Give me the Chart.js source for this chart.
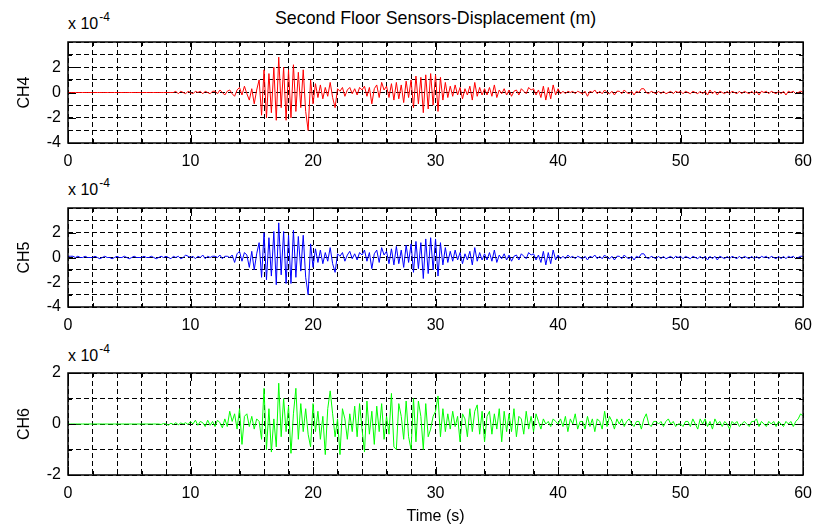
<!DOCTYPE html>
<html>
<head>
<meta charset="utf-8">
<script src="https://cdn.jsdelivr.net/npm/chart.js@4.4.1/dist/chart.umd.min.js"></script>
<style>
body { margin:0; background:#fff; width:821px; height:530px; position:relative; overflow:hidden;
  font-family:"Liberation Sans", Arial, sans-serif; color:#000; }
canvas { position:absolute; left:0; }
.lbl { position:absolute; font-size:16px; line-height:18px; white-space:nowrap; }
.lbl sup { font-size:12px; vertical-align:top; position:relative; top:-7px; margin-left:1px; }
</style>
</head>
<body>
<div class="lbl" style="left:275px;top:9px;font-size:17.8px">Second Floor Sensors-Displacement (m)</div>
<div class="lbl" style="left:68px;top:15px">x 10<sup>-4</sup></div>
<div class="lbl" style="left:68px;top:181px">x 10<sup>-4</sup></div>
<div class="lbl" style="left:68px;top:347px">x 10<sup>-4</sup></div>
<canvas id="c4" width="821" height="170" style="top:0px"></canvas>
<canvas id="c5" width="821" height="168" style="top:166px"></canvas>
<canvas id="c6" width="821" height="199" style="top:331px"></canvas>
<script>
// sample step of the recordings (s)
var dt = 0.2;

// displacement, in units of 1e-4 m, one row = 2 s
var ch4 = [
  0,0,0,0,0,0,0,0,0,0,
  0,0,0,0,0,0,0,0,0,0,
  0,0,0,0,0,0,0,0,0,0,
  0,0,0,0,0,0,0,0,0,0,
  0,0,0,0,0.1,-0.1,0.1,0,-0.1,0.1,
  0,-0.1,0.1,0,0.1,-0.1,0.1,0,-0.1,0.1,
  0.1,-0.1,0.2,0,-0.2,0.1,0.2,-0.1,-0.3,0.2,
  0.4,-0.2,0.5,-0.1,-0.6,0.3,-0.9,0.2,1.0,-1.8,
  1.8,-2.0,1.5,-1.6,2.0,-2.2,2.8,-1.2,2.0,-2.2,
  1.8,-2.0,2.2,-1.5,1.6,-1.2,1.8,-1.5,-3.0,1.0,
  -0.9,0.7,-0.4,0.6,-0.5,0.4,-0.3,0.8,-0.4,-1.2,
  0.3,0.1,0.4,-0.3,0.2,0.4,-0.1,0.3,-0.2,0.4,
  0.2,0.5,-0.3,0.4,-0.9,0.3,0.6,-0.4,0.8,0.2,
  0.5,-0.4,0.7,-0.6,0.8,-0.5,0.6,-0.8,0.9,-0.4,
  1.0,-1.2,1.3,-0.9,1.2,-1.6,1.4,-1.3,1.5,-1.0,
  1.4,-1.5,1.2,-0.6,0.8,-0.4,0.5,-0.3,0.6,-0.2,
  0.4,-0.5,0.3,-0.2,0.5,-0.6,0.8,-0.3,0.4,-0.2,
  0.3,-0.2,0.4,-0.3,0.6,-0.4,0.2,-0.1,0.3,-0.2,
  0.2,-0.3,0.1,0.2,-0.2,0.3,0.1,-0.1,0.4,0.2,
  0.3,-0.2,0.2,-0.4,0.5,-0.6,0.4,-0.5,0.6,-0.2,
  0.3,-0.1,0.1,-0.1,0.1,0,0.1,-0.1,0.1,0,
  -0.1,0.1,-0.3,0.1,0,0.2,-0.1,0.1,-0.1,0.2,
  0,-0.1,0.1,-0.2,0.1,0.1,-0.1,0.2,0,-0.1,
  0.1,-0.2,0.1,0,0.3,0.3,0,-0.1,0.1,0,
  -0.1,0.1,-0.1,0.1,-0.1,0,0.1,-0.1,0.1,0,
  0.1,-0.1,0.1,0,-0.1,0.1,0,-0.1,0.1,-0.1,
  0.1,-0.2,0.2,-0.1,0.1,-0.2,0.1,0,-0.1,0.1,
  -0.1,0.1,0,-0.1,0.1,-0.1,0.1,0,-0.1,0.1,
  -0.1,0.1,-0.2,0.1,0,0.1,-0.1,0.1,0,-0.1,
  0.1,-0.1,0.1,-0.2,0.1,0,0.1,-0.1,0,0.1,
  0
];
var ch5 = [
  0.1,0.1,0.1,0,0.1,0,0,0.1,0,0,
  0,0.1,0,-0.1,0,0.1,0,0,-0.1,0,
  0.1,0,0,0.1,0,-0.1,0,0.1,0,0,
  0,0.1,0,0,0.1,0,-0.1,0,0.1,0,
  0.1,0,-0.1,0.1,0,0.1,-0.1,0,0.2,0.1,
  0,0.1,-0.1,0.1,0,0.2,-0.1,0.1,0,0.1,
  0.1,0,0.2,-0.1,0.1,0.1,0,0.2,-0.4,0.3,
  0.5,-0.3,0.4,0.2,-0.8,0.5,-1.0,0.3,1.2,-1.6,
  2.0,-1.8,1.6,-1.5,2.1,-2.2,2.8,-1.4,2.1,-2.1,
  1.8,-2.1,2.2,-1.6,1.7,-1.1,1.8,-1.6,-3.0,1.1,
  -0.8,0.7,-0.4,0.6,-0.5,0.4,-0.3,0.8,-0.5,-1.2,
  0.3,0.1,0.4,-0.3,0.2,0.5,-0.1,0.3,-0.2,0.4,
  0.2,0.6,-0.3,0.4,-0.9,0.3,0.6,-0.4,0.8,0.2,
  0.5,-0.5,0.7,-0.6,0.9,-0.5,0.6,-0.8,1.0,-0.4,
  1.1,-1.2,1.3,-0.9,1.2,-1.7,1.5,-1.3,1.6,-1.0,
  1.5,-1.5,1.2,-0.6,0.8,-0.4,0.5,-0.3,0.6,-0.2,
  0.4,-0.5,0.3,-0.2,0.5,-0.6,0.8,-0.3,0.4,-0.2,
  0.3,-0.2,0.4,-0.3,0.6,-0.4,0.2,-0.1,0.3,-0.2,
  0.2,-0.3,0.1,0.2,-0.2,0.3,0.1,-0.1,0.4,0.2,
  0.3,-0.2,0.2,-0.4,0.5,-0.6,0.4,-0.5,0.6,-0.2,
  0.2,-0.1,0.1,-0.1,0.2,0,0.1,-0.1,0.1,0,
  -0.1,0.1,-0.2,0.1,0,0.2,-0.1,0.1,-0.1,0.2,
  0,-0.1,0.1,-0.2,0.1,0.1,-0.1,0.2,0,-0.1,
  0.1,-0.2,0.1,0,0.3,0.3,0,-0.1,0.1,0,
  -0.1,0.1,-0.1,0.1,-0.1,0,0.1,-0.1,0.1,0,
  0.1,-0.1,0.1,0,-0.1,0.1,0,-0.1,0.1,-0.1,
  0.1,-0.2,0.1,-0.1,0.1,-0.2,0.1,0,-0.1,0.1,
  -0.1,0.1,0,-0.1,0.1,-0.1,0.1,0,-0.1,0.1,
  -0.1,0.1,-0.1,0.1,0,0.1,-0.1,0.1,0,-0.1,
  0.1,-0.1,0.1,-0.1,0.1,0,0.1,-0.1,0,0.1,
  0.1
];
var ch6 = [
  0,0,0,0,0,0,0,0,0,0,
  0,0,0,0,0,0,0,0,0,0,
  0,0,0,0,0,0,0,0,0,0,
  0,0,0,0,0,0,0,0,-0.02,0.02,
  0,-0.04,0.03,-0.02,0.05,-0.03,0.04,0,0.05,-0.02,
  0.1,0,0.15,-0.05,0.1,0.05,-0.1,0.15,-0.05,0.1,
  -0.1,0.15,0.05,-0.15,0.2,-0.1,0.5,0.1,0.4,-0.2,
  0.6,-0.8,0.3,0.4,-0.1,0.3,-0.2,0.2,0.1,-0.6,
  1.4,-1.0,0.6,-1.1,0.2,-0.9,1.6,-0.5,1.0,-0.3,
  0.7,-1.15,0.4,1.4,-0.6,0.8,-0.3,0.6,-0.4,-0.9,
  0.8,-0.3,0.5,-0.6,0.3,-1.2,0.6,1.3,0.4,-0.5,
  0.2,-1.2,0.6,0.2,-0.6,0.4,-0.3,0.7,-0.5,0.8,
  -0.2,-1.1,0.9,-0.4,0.5,-0.8,0.7,-0.3,0.8,-0.6,
  0.3,-0.4,1.2,-0.9,-1.0,0.8,0.3,-0.6,0.9,-0.5,
  -1.0,1.0,-0.7,0.9,0.3,-1.0,0.8,-0.5,-0.2,0.3,
  0.5,1.1,-0.5,0.6,-0.3,0.4,-0.2,0.5,-0.1,0.3,
  -0.7,0.4,0.2,-0.5,0.6,-0.3,0.5,0.75,-0.4,0.5,
  -0.7,0.3,0.5,-0.4,0.4,-0.2,0.6,-0.7,0.5,-0.3,
  0.4,-0.3,0.6,-0.5,0.3,0.2,-0.4,0.5,-0.2,0.3,
  -0.3,0.4,0.1,-0.2,0.2,0,0.1,-0.1,0.2,0.1,
  0,0.2,-0.1,0.3,-0.3,0.2,0,0.4,-0.2,0.1,
  0.1,-0.2,0.3,-0.1,0.2,-0.3,0.2,0.1,-0.2,0.5,
  -0.1,0.3,0.1,-0.2,0.2,0,0.2,-0.1,0.1,0.2,
  0,-0.1,0.1,0.1,-0.2,0.2,0.4,0,-0.1,0.1,
  0.1,0,0.1,-0.1,0.1,0.2,0,0.1,-0.1,0,
  0,-0.1,0.1,0.1,-0.1,0.2,0,-0.2,0.2,0,
  0.2,-0.1,0.1,-0.2,0.2,0,0.1,-0.1,0.1,0,
  -0.2,0.1,0,0.1,-0.1,0,0.1,0,-0.1,0.1,
  0.1,0.2,-0.1,0.1,0,-0.1,0.1,0,0.1,-0.1,
  0.1,0,-0.1,0.1,0,0.1,-0.1,0.1,0.2,0.4,
  0.3
];

// tick labels shown on each y axis
var yLabels456 = [-4, -2, 0, 2];
var yLabels6 = [-2, 0, 2];

function points(vals) {
  return vals.map(function(v, i) { return {x: +(i * dt).toFixed(1), y: v}; });
}

// box round the plot area and the short inner tick marks, MATLAB style
var frame = {
  id: 'frame',
  afterDraw: function(chart) {
    var ctx = chart.ctx, a = chart.chartArea;
    var xs = chart.scales.x, ys = chart.scales.y;
    var labels = chart.options.plugins.frame.labels;
    ctx.save();
    ctx.strokeStyle = '#000';
    ctx.lineWidth = 1;
    ctx.beginPath();
    xs.ticks.forEach(function(t) {
      var px = Math.round(xs.getPixelForValue(t.value)) + 0.5;
      var len = t.value % 10 === 0 ? 8 : 4;
      ctx.moveTo(px, a.top); ctx.lineTo(px, a.top + len);
      ctx.moveTo(px, a.bottom); ctx.lineTo(px, a.bottom - len);
    });
    ys.ticks.forEach(function(t) {
      var py = Math.round(ys.getPixelForValue(t.value)) + 0.5;
      var len = labels.indexOf(t.value) >= 0 ? 8 : 4;
      ctx.moveTo(a.left, py); ctx.lineTo(a.left + len, py);
      ctx.moveTo(a.right, py); ctx.lineTo(a.right - len, py);
    });
    ctx.stroke();
    ctx.lineWidth = 1.5;
    ctx.strokeRect(a.left, a.top, a.right - a.left, a.bottom - a.top);
    ctx.restore();
  }
};

function makeChart(id, vals, color, yMin, yMax, labels, yTitle, xHeight, xTitle) {
  return new Chart(document.getElementById(id), {
    type: 'line',
    data: {
      datasets: [{
        data: points(vals),
        borderColor: color,
        borderWidth: 1,
        pointRadius: 0,
        tension: 0,
        fill: false
      }]
    },
    options: {
      responsive: false,
      animation: false,
      layout: { padding: { top: 42, right: 13, left: 0, bottom: 0 } },
      plugins: {
        legend: { display: false },
        tooltip: { enabled: false },
        frame: { labels: labels }
      },
      scales: {
        x: {
          type: 'linear', min: 0, max: 60,
          ticks: {
            stepSize: 2, autoSkip: false, maxRotation: 0, padding: 9,
            color: '#000', font: { size: 16, family: 'Liberation Sans' },
            callback: function(v) { return v % 10 === 0 ? v : ''; }
          },
          grid: { color: '#000', lineWidth: 1, drawTicks: false },
          border: { display: false, dash: [5, 3] },
          title: xTitle ? {
            display: true, text: xTitle, color: '#000',
            font: { size: 16, family: 'Liberation Sans' },
            padding: { top: 0, bottom: 4 }
          } : { display: false },
          afterFit: function(s) { s.height = xHeight; }
        },
        y: {
          min: yMin, max: yMax,
          ticks: {
            stepSize: 1, autoSkip: false, padding: 7,
            color: '#000', font: { size: 16, family: 'Liberation Sans' },
            callback: function(v) { return labels.indexOf(v) >= 0 ? v : ''; }
          },
          grid: { color: '#000', lineWidth: 1, drawTicks: false },
          border: { display: false, dash: [5, 3] },
          title: {
            display: true, text: yTitle, color: '#000',
            font: { size: 16, family: 'Liberation Sans' },
            padding: { top: 15, bottom: 0 }
          },
          afterFit: function(s) { s.width = 68; }
        }
      }
    },
    plugins: [frame]
  });
}

makeChart('c4', ch4, '#ff0000', -4, 4, yLabels456, 'CH4', 27, null);
makeChart('c5', ch5, '#0000ff', -4, 4, yLabels456, 'CH5', 27, null);
makeChart('c6', ch6, '#00ff00', -2, 2, yLabels6, 'CH6', 55, 'Time (s)');
</script>
</body>
</html>
